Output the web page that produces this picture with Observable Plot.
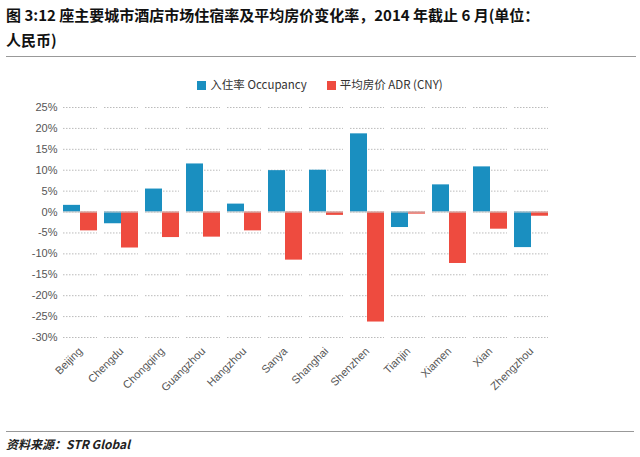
<!DOCTYPE html>
<html><head><meta charset="utf-8">
<script src="https://cdn.jsdelivr.net/npm/d3@7"></script>
<script src="https://cdn.jsdelivr.net/npm/@observablehq/plot@0.6"></script>
<style>
body{margin:0;background:#fff;font-family:"Noto Sans CJK SC",sans-serif;width:640px;height:457px;position:relative;overflow:hidden}
#title{position:absolute;left:6px;top:2px;width:630px;font-size:15px;font-weight:bold;line-height:25px;color:#111;border-bottom:1px solid #999;padding-bottom:4px}
#legend{position:absolute;top:76px;left:0;width:640px;text-align:center;font-size:11.5px;color:#333;font-family:"Noto Sans CJK SC",sans-serif}
#legend span{display:inline-block;margin:0 10px}
#legend i{display:inline-block;width:9px;height:9px;margin-right:4px;vertical-align:-1px}
#chart{position:absolute;top:95px;left:0}
#src{position:absolute;left:6px;top:431px;width:628px;font-size:12px;font-style:italic;font-weight:bold;color:#222;border-top:1px solid #999;padding-top:3px}
</style></head><body>
<div id="title">图 3:12 座主要城市酒店市场住宿率及平均房价变化率，2014 年截止 6 月(单位：<br>人民币)</div>
<div id="legend"><span><i style="background:#1a8fc0"></i>入住率 Occupancy</span><span><i style="background:#ee4b3f"></i>平均房价 ADR (CNY)</span></div>
<div id="chart"></div>
<div id="src">资料来源：STR Global</div>
<script>
const cities=["Beijing","Chengdu","Chongqing","Guangzhou","Hangzhou","Sanya","Shanghai","Shenzhen","Tianjin","Xiamen","Xian","Zhengzhou"];
const occupancy=[1.6,-2.8,5.5,11.5,1.9,9.9,10.0,18.7,-3.7,6.5,10.8,-8.5];
const adr=[-4.5,-8.6,-6.1,-6.0,-4.5,-11.5,-0.8,-26.3,-0.5,-12.3,-4.1,-1.0];
const series=["入住率 Occupancy","平均房价 ADR (CNY)"];
const yTicks=[25,20,15,10,5,0,-5,-10,-15,-20,-25,-30];
const data=cities.flatMap((c,i)=>[{city:c,s:series[0],v:occupancy[i]},{city:c,s:series[1],v:adr[i]}]);
const chart=Plot.plot({
  width:560,height:320,marginLeft:62,marginRight:10,marginTop:12,marginBottom:78,
  style:{fontFamily:"Liberation Sans, Arial, sans-serif",fontSize:"11px",color:"#555"},
  fx:{domain:cities,padding:0.16,label:null,tickRotate:-45},
  x:{domain:series,axis:null,padding:0},
  y:{domain:[-30,25],ticks:yTicks,tickFormat:d=>d+"%",label:null,tickSize:0,tickPadding:6},
  color:{domain:series,range:["#1a8fc0","#ee4b3f"]},
  marks:[
    Plot.gridY(yTicks,{stroke:"#bbb",strokeOpacity:1,strokeDasharray:"1.5,1.5"}),
    Plot.barY(data,{fx:"city",x:"s",y:"v",fill:"s"}),
    Plot.ruleY([0],{stroke:"#ccc"})
  ]
});
document.getElementById("chart").appendChild(chart);
</script></body></html>
